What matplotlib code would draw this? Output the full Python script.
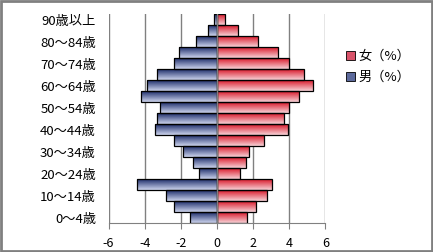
import matplotlib
matplotlib.use('Agg')
import matplotlib.pyplot as plt
from matplotlib.patches import Patch, Rectangle
import numpy as np

plt.rcParams['font.family'] = ['Noto Sans CJK JP', 'DejaVu Sans']

# age groups, bottom to top
ages = ['0〜4歳', '5〜9歳', '10〜14歳', '15〜19歳', '20〜24歳', '25〜29歳',
        '30〜34歳', '35〜39歳', '40〜44歳', '45〜49歳', '50〜54歳', '55〜59歳',
        '60〜64歳', '65〜69歳', '70〜74歳', '75〜79歳', '80〜84歳', '85〜89歳',
        '90歳以上']
male = [-1.5, -2.35, -2.8, -4.4, -1.0, -1.35, -1.85, -2.4, -3.45, -3.3,
        -3.15, -4.2, -3.85, -3.3, -2.4, -2.1, -1.15, -0.5, -0.18]
female = [1.65, 2.14, 2.75, 3.03, 1.26, 1.6, 1.8, 2.6, 3.93, 3.7,
          3.98, 4.55, 5.3, 4.8, 4.0, 3.38, 2.25, 1.15, 0.43]
xticks = [-6, -4, -2, 0, 2, 4, 6]

BLUE_TOP, BLUE_BOT = (0.12, 0.18, 0.42), (0.80, 0.83, 0.93)
RED_TOP, RED_BOT = (0.85, 0.10, 0.17), (0.97, 0.82, 0.84)


def gradient(top, bot, n=32):
    t = np.linspace(0, 1, n)[:, None]
    g = (1 - t) * np.array(top) + t * np.array(bot)
    return g[:, None, :]


def fill_gradient(ax, bars, top, bot):
    img = gradient(top, bot)
    for p in bars.patches:
        x0, y0 = p.get_x(), p.get_y()
        x1, y1 = x0 + p.get_width(), y0 + p.get_height()
        im = ax.imshow(img, extent=(min(x0, x1), max(x0, x1), y0, y1),
                       origin='upper', aspect='auto', zorder=2,
                       interpolation='bilinear')
        im.set_clip_path(p)


fig = plt.figure(figsize=(4.33, 2.52), dpi=100)
ax = fig.add_axes([0.2506, 0.114, 0.5007, 0.830])

y = np.arange(len(ages))
h = 0.97
mb = ax.barh(y, male, height=h, color='none', edgecolor='none', zorder=1)
fb = ax.barh(y, female, height=h, color='none', edgecolor='none', zorder=1)
fill_gradient(ax, mb, BLUE_TOP, BLUE_BOT)
fill_gradient(ax, fb, RED_TOP, RED_BOT)
ax.barh(y, male, height=h, facecolor='none', edgecolor='black', lw=0.9, zorder=3)
ax.barh(y, female, height=h, facecolor='none', edgecolor='black', lw=0.9, zorder=3)

ax.set_xlim(-6, 6)
ax.set_ylim(-0.5, len(ages) - 0.5)
ax.set_xticks(xticks)
ax.set_xticklabels([str(v) for v in xticks], fontsize=9)
ax.set_yticks(y[::2])
ax.set_yticklabels(ages[::2], fontsize=9.5)

for v in xticks:
    ax.axvline(v, color='#808080', lw=1, zorder=0)
ax.axvline(0, color='#808080', lw=1, zorder=4)

for s in ['top', 'right', 'left']:
    ax.spines[s].set_visible(False)
ax.spines['bottom'].set_color('#808080')
ax.tick_params(axis='y', length=0, pad=9)
ax.tick_params(axis='x', length=4, color='#808080', pad=6)

handles = [Patch(facecolor='#d9536a', edgecolor='black', lw=0.6, label='女（%）'),
           Patch(facecolor='#5d6a9c', edgecolor='black', lw=0.6, label='男（%）')]
fig.legend(handles=handles, loc='center left', bbox_to_anchor=(0.772, 0.735),
           frameon=False, fontsize=9.5, handlelength=0.7, handleheight=0.7,
           handletextpad=0.25, labelspacing=0.6)

fig.patches.append(Rectangle((0.002, 0.004), 0.995, 0.992, transform=fig.transFigure,
                             fill=False, edgecolor='#808080', lw=2))

fig.savefig('out.png', dpi=100)
